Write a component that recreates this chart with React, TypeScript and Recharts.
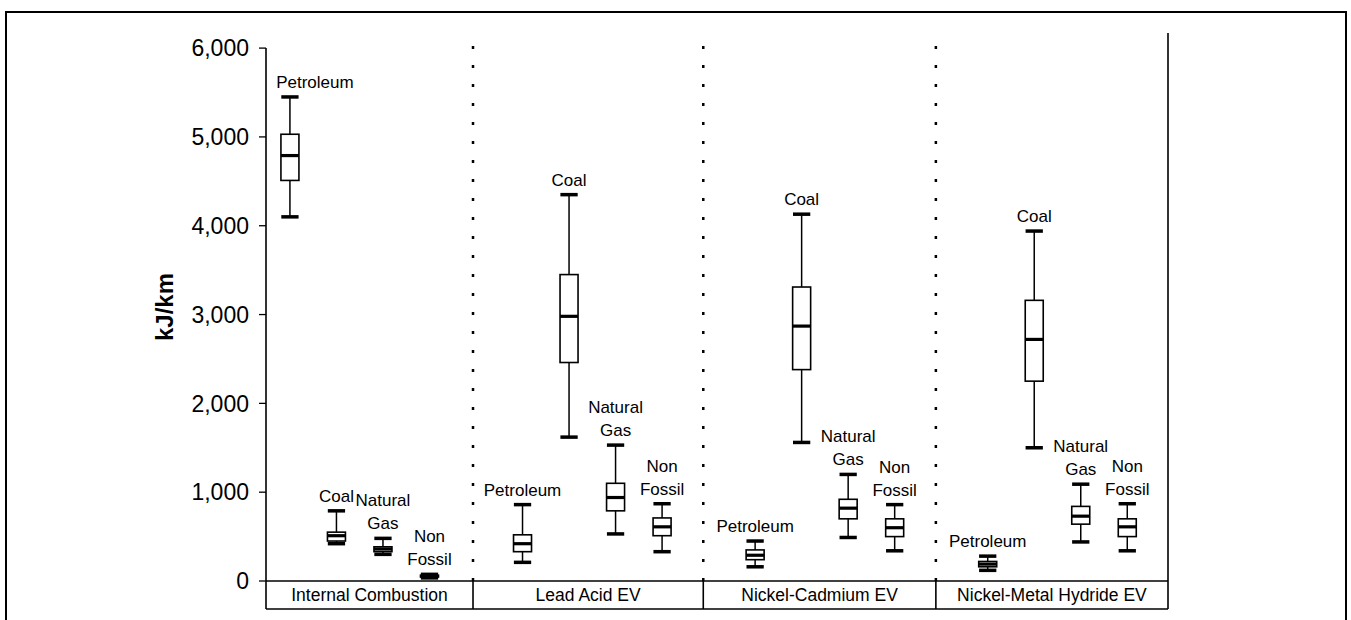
import React from 'react';
import { ComposedChart, Bar, XAxis, YAxis, ReferenceLine } from 'recharts';

const groups = ['Internal Combustion', 'Lead Acid EV', 'Nickel-Cadmium EV', 'Nickel-Metal Hydride EV'];
const fuelLabels = [['Petroleum'], ['Coal'], ['Natural', 'Gas'], ['Non', 'Fossil']];

// [min, q1, median, q3, max] for Petroleum, Coal, Natural Gas, Non Fossil
const internalCombustion = [
  [4100, 4510, 4790, 5030, 5450],
  [420, 450, 510, 550, 790],
  [300, 330, 360, 385, 480],
  [35, 45, 55, 65, 75],
];
const leadAcid = [
  [210, 330, 420, 520, 860],
  [1620, 2460, 2980, 3450, 4350],
  [530, 790, 940, 1100, 1530],
  [330, 510, 610, 710, 870],
];
const nickelCadmium = [
  [160, 240, 290, 350, 450],
  [1560, 2380, 2870, 3310, 4130],
  [490, 700, 820, 920, 1200],
  [340, 500, 600, 700, 860],
];
const nickelMetalHydride = [
  [120, 160, 190, 220, 280],
  [1500, 2250, 2720, 3160, 3940],
  [440, 640, 730, 840, 1090],
  [340, 500, 610, 700, 870],
];

const yTicks = [0, 1000, 2000, 3000, 4000, 5000, 6000];
// x axis: one slot per box, 5 slots per group (last one empty)
const groupEdges = [-0.52, 3.93, 8.88, 13.88, 18.87];
const groupCenters = groupEdges.slice(0, -1).map((e, i) => (e + groupEdges[i + 1]) / 2);

const data = [internalCombustion, leadAcid, nickelCadmium, nickelMetalHydride].flatMap((grp, g) =>
  grp.map((s, i) => ({
    slot: g * 5 + i,
    range: [s[0], s[4]],
    stats: s,
    label: fuelLabels[i],
  }))
);

const FONT = '"Liberation Sans", Arial, Helvetica, sans-serif';
// first label sits right of its box so it clears the y axis
const FIRST_LABEL_SHIFT = 25;

const BoxShape = (props: any) => {
  const { x, y, width, height, payload } = props;
  const [lo, q1, med, q3, hi] = payload.stats;
  const top = Math.min(y, y + height);
  const h = Math.abs(height);
  const py = (v: number) => top + (h * (hi - v)) / (hi - lo);
  const cx = x + width / 2;
  const cap = width * 0.48;
  const lines: string[] = payload.label;
  const lx = cx + (payload.slot === 0 ? FIRST_LABEL_SHIFT : 0);
  return (
    <g>
      <line x1={cx} x2={cx} y1={py(hi)} y2={py(lo)} stroke="#000" strokeWidth={1.5} />
      <line x1={cx - cap} x2={cx + cap} y1={py(hi)} y2={py(hi)} stroke="#000" strokeWidth={3.5} />
      <line x1={cx - cap} x2={cx + cap} y1={py(lo)} y2={py(lo)} stroke="#000" strokeWidth={3.5} />
      <rect x={x} y={py(q3)} width={width} height={Math.max(py(q1) - py(q3), 1)} fill="#fff" stroke="#000" strokeWidth={1.6} />
      <line x1={x} x2={x + width} y1={py(med)} y2={py(med)} stroke="#000" strokeWidth={3.2} />
      {lines.map((t, k) => (
        <text
          key={k}
          x={lx}
          y={py(hi) - 9 - (lines.length - 1 - k) * 23}
          textAnchor="middle"
          fontSize={17}
          fill="#000"
          fontFamily={FONT}
        >
          {t}
        </text>
      ))}
    </g>
  );
};

const RowTick = (props: any) => {
  const { x, y, payload } = props;
  const v = payload.value;
  const ci = groupCenters.findIndex((c) => Math.abs(c - v) < 1e-6);
  if (ci < 0) {
    return <line x1={x} x2={x} y1={y} y2={y + 28} stroke="#000" strokeWidth={1.6} />;
  }
  return (
    <text x={x} y={y + 20} textAnchor="middle" fontSize={17.5} fill="#000" fontFamily={FONT}>
      {groups[ci]}
    </text>
  );
};

const YLabel = (props: any) => {
  const vb = props.viewBox;
  const cx = vb.x + vb.width - 102;
  const cy = vb.y + vb.height / 2;
  return (
    <text
      x={cx}
      y={cy}
      transform={`rotate(-90, ${cx}, ${cy})`}
      textAnchor="middle"
      dominantBaseline="central"
      fontSize={24}
      fontWeight="bold"
      fill="#000"
      fontFamily={FONT}
    >
      kJ/km
    </text>
  );
};

export default function App() {
  const domain: [number, number] = [groupEdges[0], groupEdges[groupEdges.length - 1]];
  return (
    <div style={{ position: 'absolute', left: 0, top: 0, width: 1351, height: 620, overflow: 'hidden', background: '#fff' }}>
      <div
        style={{
          position: 'absolute',
          left: 5,
          top: 11,
          width: 1342,
          height: 640,
          border: '2px solid #000',
          boxSizing: 'border-box',
        }}
      />
      <div style={{ position: 'absolute', left: 0, top: 0 }}>
        <ComposedChart
          width={1351}
          height={620}
          data={data}
          margin={{ top: 33, right: 183, bottom: 0, left: 0 }}
          style={{ fontFamily: FONT }}
        >
          <XAxis
            xAxisId="a"
            dataKey="slot"
            type="number"
            domain={domain}
            ticks={[...groupEdges, ...groupCenters]}
            interval={0}
            tick={<RowTick />}
            tickLine={false}
            tickSize={0}
            tickMargin={0}
            height={28}
            axisLine={{ stroke: '#000', strokeWidth: 1.6 }}
          />
          <XAxis
            xAxisId="b"
            dataKey="slot"
            type="number"
            domain={domain}
            tick={false}
            tickLine={false}
            height={11}
            axisLine={{ stroke: '#000', strokeWidth: 1.6 }}
          />
          <YAxis
            type="number"
            domain={[0, 6170]}
            ticks={yTicks}
            interval={0}
            width={266}
            axisLine={false}
            tickSize={7}
            tickMargin={10}
            tickLine={{ stroke: '#000', strokeWidth: 1.3 }}
            tick={{ fill: '#000', fontSize: 23, fontFamily: FONT }}
            tickFormatter={(v: number) => v.toLocaleString('en-US')}
            label={{ content: <YLabel /> }}
          />
          <ReferenceLine
            xAxisId="a"
            segment={[
              { x: groupEdges[0], y: 0 },
              { x: groupEdges[0], y: 6000 },
            ]}
            stroke="#000"
            strokeWidth={1.6}
          />
          {groupEdges.slice(1, -1).map((e) => (
            <ReferenceLine key={e} xAxisId="a" x={e} stroke="#000" strokeWidth={2.5} strokeDasharray="3 16" />
          ))}
          <ReferenceLine xAxisId="a" x={groupEdges[groupEdges.length - 1]} stroke="#000" strokeWidth={1.6} />
          <Bar
            xAxisId="a"
            dataKey="range"
            barSize={18}
            shape={<BoxShape />}
            isAnimationActive={false}
          />
        </ComposedChart>
      </div>
    </div>
  );
}
